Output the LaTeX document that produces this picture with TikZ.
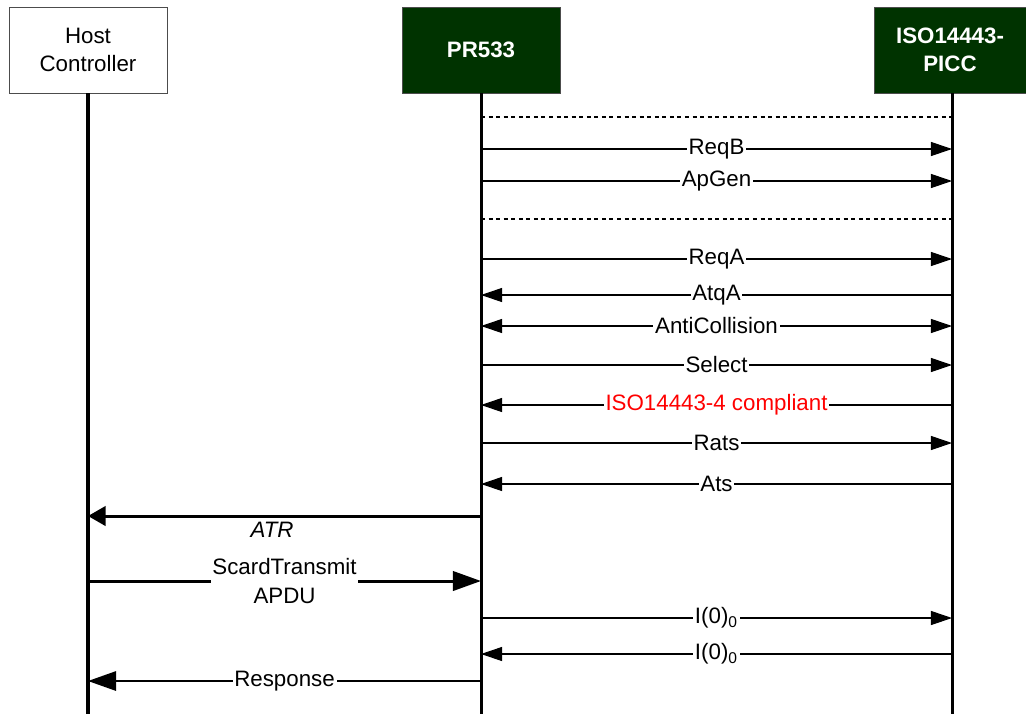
\documentclass[tikz,border=0pt]{standalone}
\usepackage{fontspec}
\setmainfont{Liberation Sans}
\usetikzlibrary{arrows.meta, positioning}
\definecolor{boxgreen}{RGB}{0,51,0}

\begin{document}
\begin{tikzpicture}[x=0.02cm, y=-0.02cm,
	actor/.style={draw=black!70, minimum width=3.16cm, minimum height=1.72cm, align=center, fill=boxgreen, text=white, font=\bfseries},
	lifeline/.style={line width=1.7pt},
	msg/.style={line width=0.6pt, >={Triangle[length=12pt, width=8pt]}},
	big/.style={line width=1.7pt, >={Triangle[length=16pt, width=11pt]}},
	lbl/.style={fill=white, inner sep=1pt},
	sep/.style={line width=0.6pt, dash pattern=on 2.3pt off 2pt}]
	\useasboundingbox (0,0) rectangle (1026,714);
	\fontsize{12.7}{16}\selectfont
	\node[actor, fill=white, text=black, font=\normalfont] (host) at (88,50) {Host\\Controller};
	\node[actor] (pr) at (481,50) {PR533};
	\node[actor, minimum width=3.04cm] (picc) at (950,50) {ISO14443-\\PICC};
	\coordinate (piccl) at (952,93);

	\draw[lifeline, line width=2.3pt] (host.south) -- (host.south |- 0,714);
	\draw[lifeline] (pr.south) -- (pr.south |- 0,714);
	\draw[lifeline] (piccl) -- (piccl |- 0,714);

	\draw[sep] (pr |- 0,117) -- (piccl |- 0,117);
	\draw[msg, ->] (pr |- 0,149) -- node[lbl] {ReqB} (piccl |- 0,149);
	\draw[msg, ->] (pr |- 0,181) -- node[lbl] {ApGen} (piccl |- 0,181);
	\draw[sep] (pr |- 0,219) -- (piccl |- 0,219);
	\draw[msg, ->] (pr |- 0,259) -- node[lbl] {ReqA} (piccl |- 0,259);
	\draw[msg, <-] (pr |- 0,295) -- node[lbl] {AtqA} (piccl |- 0,295);
	\draw[msg, <->] (pr |- 0,326) -- node[lbl] {AntiCollision} (piccl |- 0,326);
	\draw[msg, ->] (pr |- 0,365) -- node[lbl] {Select} (piccl |- 0,365);
	\draw[msg, <-] (pr |- 0,405) -- node[lbl, text=red] {ISO14443-4 compliant} (piccl |- 0,405);
	\draw[msg, ->] (pr |- 0,443) -- node[lbl] {Rats} (piccl |- 0,443);
	\draw[msg, <-] (pr |- 0,484) -- node[lbl] {Ats} (piccl |- 0,484);

	\draw[big, <-, >={Triangle[length=10pt, width=11pt]}] (host |- 0,516) -- (pr |- 0,516);
	\node[font=\itshape] (atr) at (272,530) {ATR};
	\draw[big, ->] (host |- 0,581) -- node[lbl, align=center] {ScardTransmit\\APDU} (pr |- 0,581);

	\draw[msg, ->] (pr |- 0,618) -- node[lbl] {I(0)\textsubscript{0}} (piccl |- 0,618);
	\draw[msg, <-] (pr |- 0,654) -- node[lbl] {I(0)\textsubscript{0}} (piccl |- 0,654);
	\draw[big, <-, line width=1.2pt] (host |- 0,681) -- node[lbl] {Response} (pr |- 0,681);
\end{tikzpicture}
\end{document}
